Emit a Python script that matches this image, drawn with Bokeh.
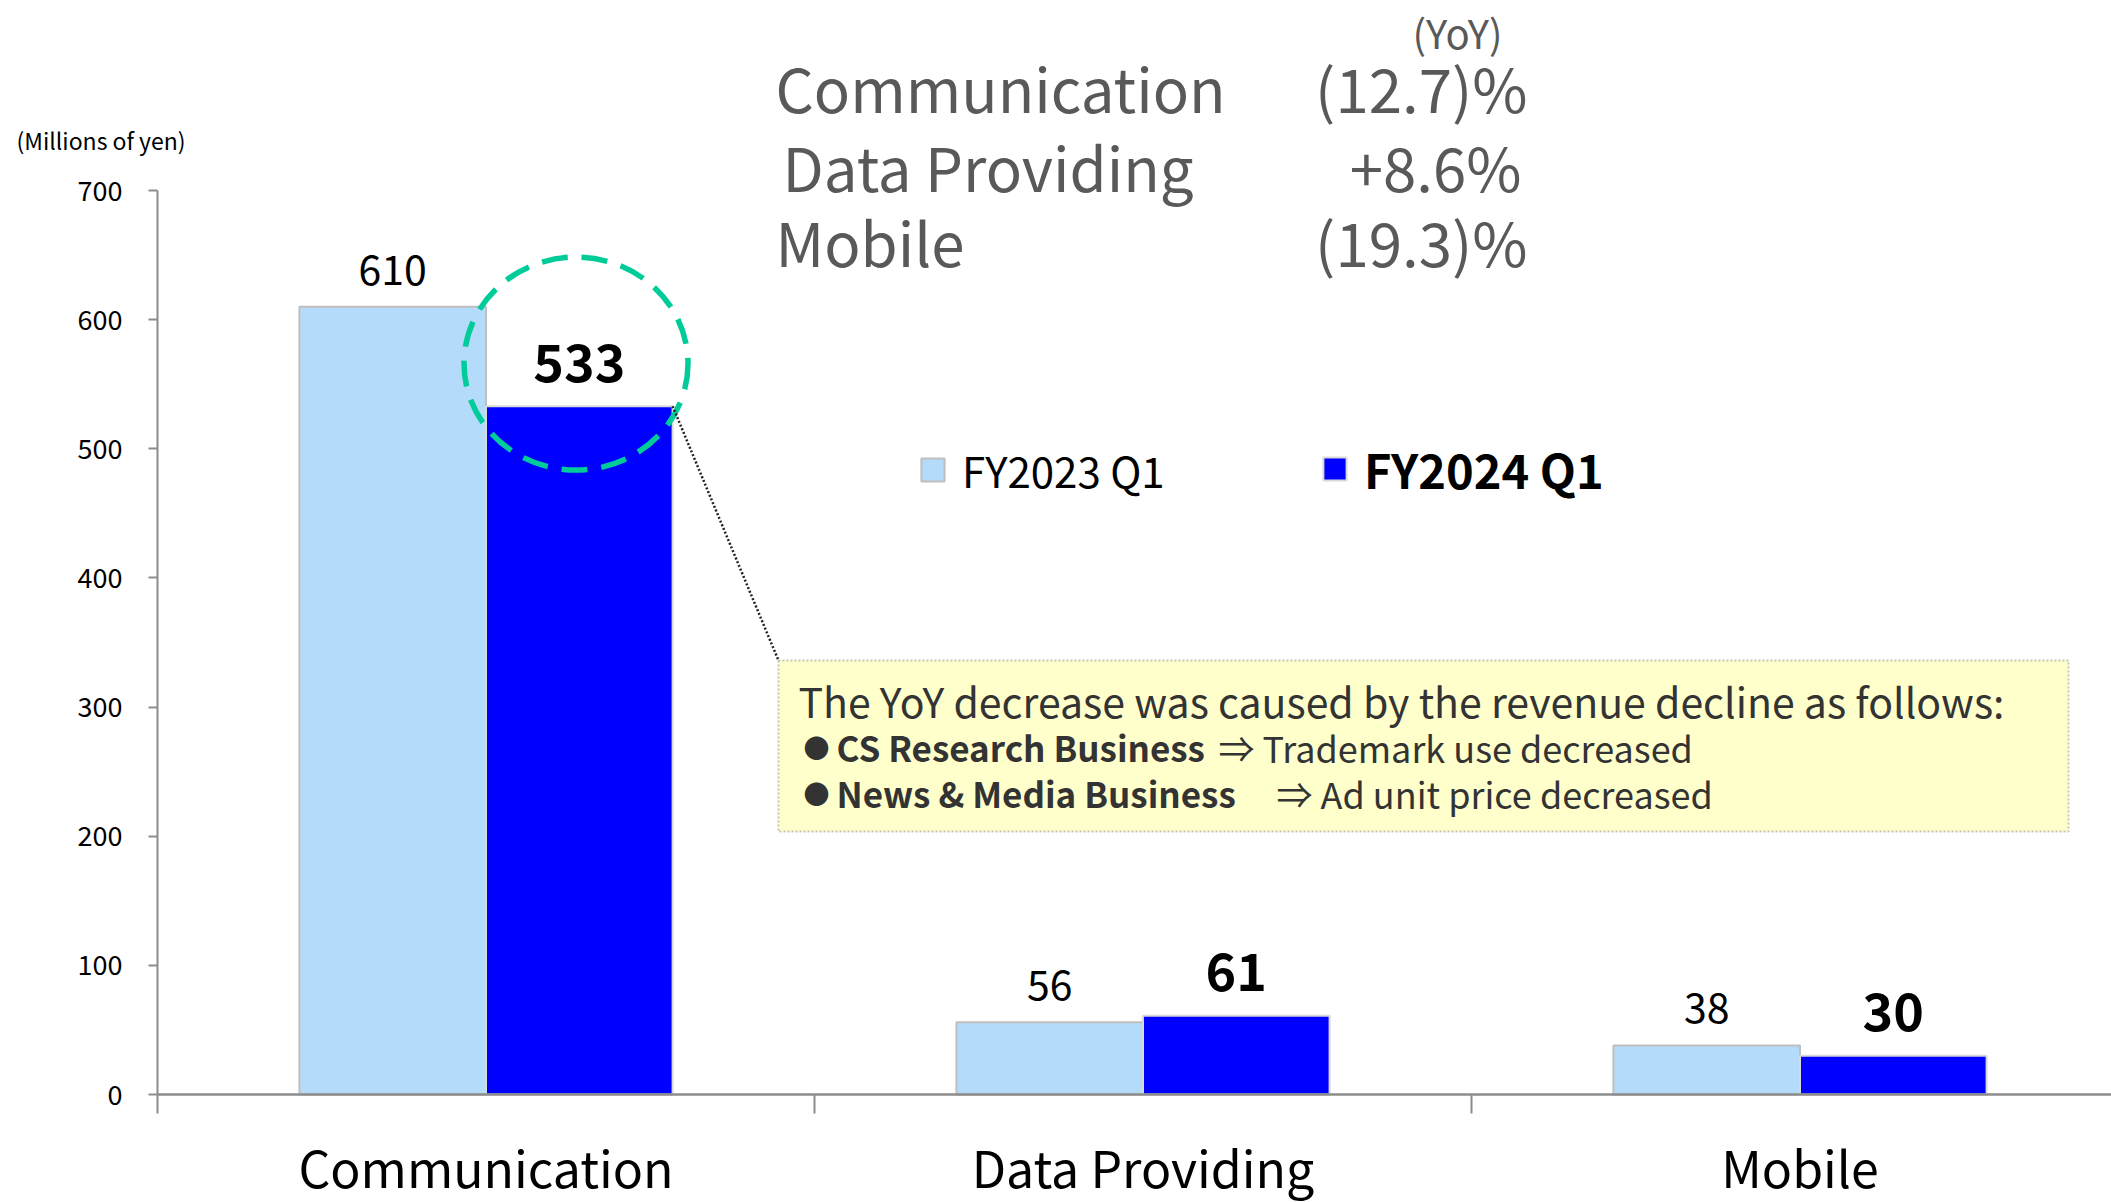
from bokeh.plotting import figure
from bokeh.models import (Range1d, FixedTicker, Legend, LegendItem,
                          BoxAnnotation, ColumnDataSource)
from bokeh.transform import dodge
from bokeh.core.properties import value
from bokeh.embed import file_html
from bokeh.resources import INLINE

# ---------------- data ----------------
categories = ["Communication", "Data Providing", "Mobile"]
fy2023_q1 = [610, 56, 38]
fy2024_q1 = [533, 61, 30]
series_names = ["FY2023 Q1", "FY2024 Q1"]
y_ticks = [0, 100, 200, 300, 400, 500, 600, 700]
unit_label = "(Millions of yen)"
yoy_header = "(YoY)"
yoy_segments = ["Communication", "Data Providing", "Mobile"]
yoy_values = ["(12.7)%", "+8.6%", "(19.3)%"]
note_title = "The YoY decrease was caused by the revenue decline as follows:"
note_business = ["CS Research Business", "News & Media Business"]
note_reason = ["\u21d2 Trademark use decreased", "\u21d2 Ad unit price decreased"]

# ---------------- layout helpers (reference pixel -> data) ----------------
FONT = "Noto Sans CJK JP"
X0_PX, X_PX_PER_UNIT = 157.0, 657.0
Y0_PX, Y_PX_PER_UNIT = 1094.0, 1.2914


def dx(px):
    return (px - X0_PX) / X_PX_PER_UNIT


def dy(py):
    return (Y0_PX - py) / Y_PX_PER_UNIT


W, H = 2111, 1202
p = figure(width=W, height=H, output_backend="svg", toolbar_location=None,
           x_range=Range1d(dx(0), dx(W)), y_range=Range1d(dy(H), dy(0)),
           min_border_left=0, min_border_right=0, min_border_top=0,
           min_border_bottom=0)
p.outline_line_color = None
p.grid.visible = False
p.background_fill_color = "white"
p.border_fill_color = "white"

AXIS_GREY = "#8c8c8c"
# y axis (drawn at x = 0 inside the frame)
p.yaxis.fixed_location = 0
p.yaxis.ticker = FixedTicker(ticks=y_ticks, minor_ticks=[])
p.yaxis.bounds = (0, 700)
p.yaxis.axis_line_color = AXIS_GREY
p.yaxis.axis_line_width = 2
p.yaxis.major_tick_line_color = AXIS_GREY
p.yaxis.major_tick_line_width = 2
p.yaxis.major_tick_in = 0
p.yaxis.major_tick_out = 9
p.yaxis.minor_tick_line_color = None
p.yaxis.major_label_standoff = 26
p.yaxis.major_label_text_font = FONT
p.yaxis.major_label_text_font_size = "27px"
p.yaxis.major_label_text_color = "black"

# x axis: labels at category centres, boundary ticks as minor ticks
centers = [i + 0.5 for i in range(len(categories))]
bounds_ticks = [float(i) for i in range(len(categories) + 1)]
p.xaxis.fixed_location = 0
p.xaxis.bounds = (0, dx(W))
p.xaxis.ticker = FixedTicker(ticks=centers, minor_ticks=bounds_ticks)
p.xaxis.major_label_overrides = {c: n for c, n in zip(centers, categories)}
p.xaxis.axis_line_color = AXIS_GREY
p.xaxis.axis_line_width = 2.5
p.xaxis.major_tick_line_color = None
p.xaxis.major_tick_in = 0
p.xaxis.major_tick_out = 0
p.xaxis.minor_tick_line_color = AXIS_GREY
p.xaxis.minor_tick_line_width = 2
p.xaxis.minor_tick_in = 0
p.xaxis.minor_tick_out = 19
p.xaxis.major_label_standoff = 16
p.xaxis.major_label_text_font = FONT
p.xaxis.major_label_text_font_size = "50px"
p.xaxis.major_label_text_color = "black"

# ---------------- bars ----------------
src = ColumnDataSource(dict(
    x=centers, prev=fy2023_q1, curr=fy2024_q1,
    prev_lbl=[str(v) for v in fy2023_q1], curr_lbl=[str(v) for v in fy2024_q1]))
OFF, BW = 0.142, 0.284

# note box (underlay so that the note text sits above it)
box = BoxAnnotation(left=dx(778), right=dx(2068), top=dy(660), bottom=dy(831),
                    fill_color="#ffffcc", fill_alpha=1.0, line_color="#404040",
                    line_width=2, line_dash="2 2", level="underlay")
p.add_layout(box)

r1 = p.vbar(x=dodge("x", -OFF), top="prev", width=BW, source=src,
            fill_color="#b4dbf9", line_color="#bfbfbf", line_width=2)
r2 = p.vbar(x=dodge("x", OFF), top="curr", width=BW, source=src,
            fill_color="#0000ff", line_color="#d9d9d9", line_width=2)

p.text(x=dodge("x", -OFF), y="prev", text="prev_lbl", source=src,
       text_align="center", text_baseline="middle", y_offset=-37,
       text_font=value(FONT), text_font_size="41px", text_color="black")
p.text(x=dodge("x", OFF), y="curr", text="curr_lbl", source=src,
       text_align="center", text_baseline="middle", y_offset=-44,
       text_font=value(FONT), text_font_size="52px", text_font_style="bold",
       text_color="black")

# highlight circle around the Communication FY2024 value
hl_x = centers[0] + OFF
hl_y = fy2024_q1[0]
p.ellipse(x=[hl_x - 0.005], y=[hl_y + 33], width=224, height=213,
          width_units="screen", height_units="screen",
          fill_alpha=0, line_color="#00cc99", line_width=5.5, line_dash="26 14")

# dotted connector from bar corner to note box
p.segment(x0=[hl_x + BW / 2], y0=[hl_y], x1=[dx(778)], y1=[dy(660)],
          line_color="#222222", line_width=2.5, line_dash="2 2")

# note text
p.text(x=[dx(798)], y=[dy(699)], text=[note_title], text_baseline="middle",
       text_font=value(FONT), text_font_size="41px", text_color="#333333")
line_y = [dy(746), dy(792)]
p.text(x=[dx(816)] * 2, y=line_y, text=["\u25cf"] * 2, text_align="center",
       text_baseline="middle", text_font=value(FONT), text_font_size="26px",
       text_color="#333333")
p.text(x=[dx(836)] * 2, y=line_y, text=note_business, text_baseline="middle",
       text_font=value(FONT), text_font_size="35px", text_font_style="bold",
       text_color="#333333")
p.text(x=[dx(1218), dx(1276)], y=line_y, text=note_reason, text_baseline="middle",
       text_font=value(FONT), text_font_size="36px", text_color="#333333")

# YoY block
p.text(x=[dx(1457)], y=[dy(31)], text=[yoy_header], text_align="center",
       text_baseline="middle", text_font=value(FONT), text_font_size="40px",
       text_color="#595959")
row_y = [dy(86), dy(165), dy(240)]
p.text(x=[dx(775), dx(782), dx(775)], y=row_y, text=yoy_segments,
       text_baseline="middle", text_font=value(FONT), text_font_size="60px",
       text_color="#595959")
p.text(x=[dx(1527), dx(1521), dx(1527)], y=row_y, text=yoy_values,
       text_align="right", text_baseline="middle", text_font=value(FONT),
       text_font_size="60px", text_color="#595959")

# unit label
p.text(x=[dx(16)], y=[dy(139)], text=[unit_label], text_baseline="middle",
       text_font=value(FONT), text_font_size="23px", text_color="black")

# legends (two, so that the second can be bold)
common = dict(border_line_color=None, background_fill_alpha=0, padding=0, margin=0,
              spacing=0, glyph_width=29, glyph_height=29, label_standoff=15,
              label_text_font=FONT, label_text_color="black")
leg1 = Legend(items=[LegendItem(label=value(series_names[0]), renderers=[r1])],
              location=(918, H - 500), label_text_font_size="42px", **common)
leg2 = Legend(items=[LegendItem(label=value(series_names[1]), renderers=[r2])],
              location=(1320, H - 503), label_text_font_size="47px",
              label_text_font_style="bold", **common)
p.add_layout(leg1)
p.add_layout(leg2)

open("out.html", "w").write(file_html(p, INLINE))
